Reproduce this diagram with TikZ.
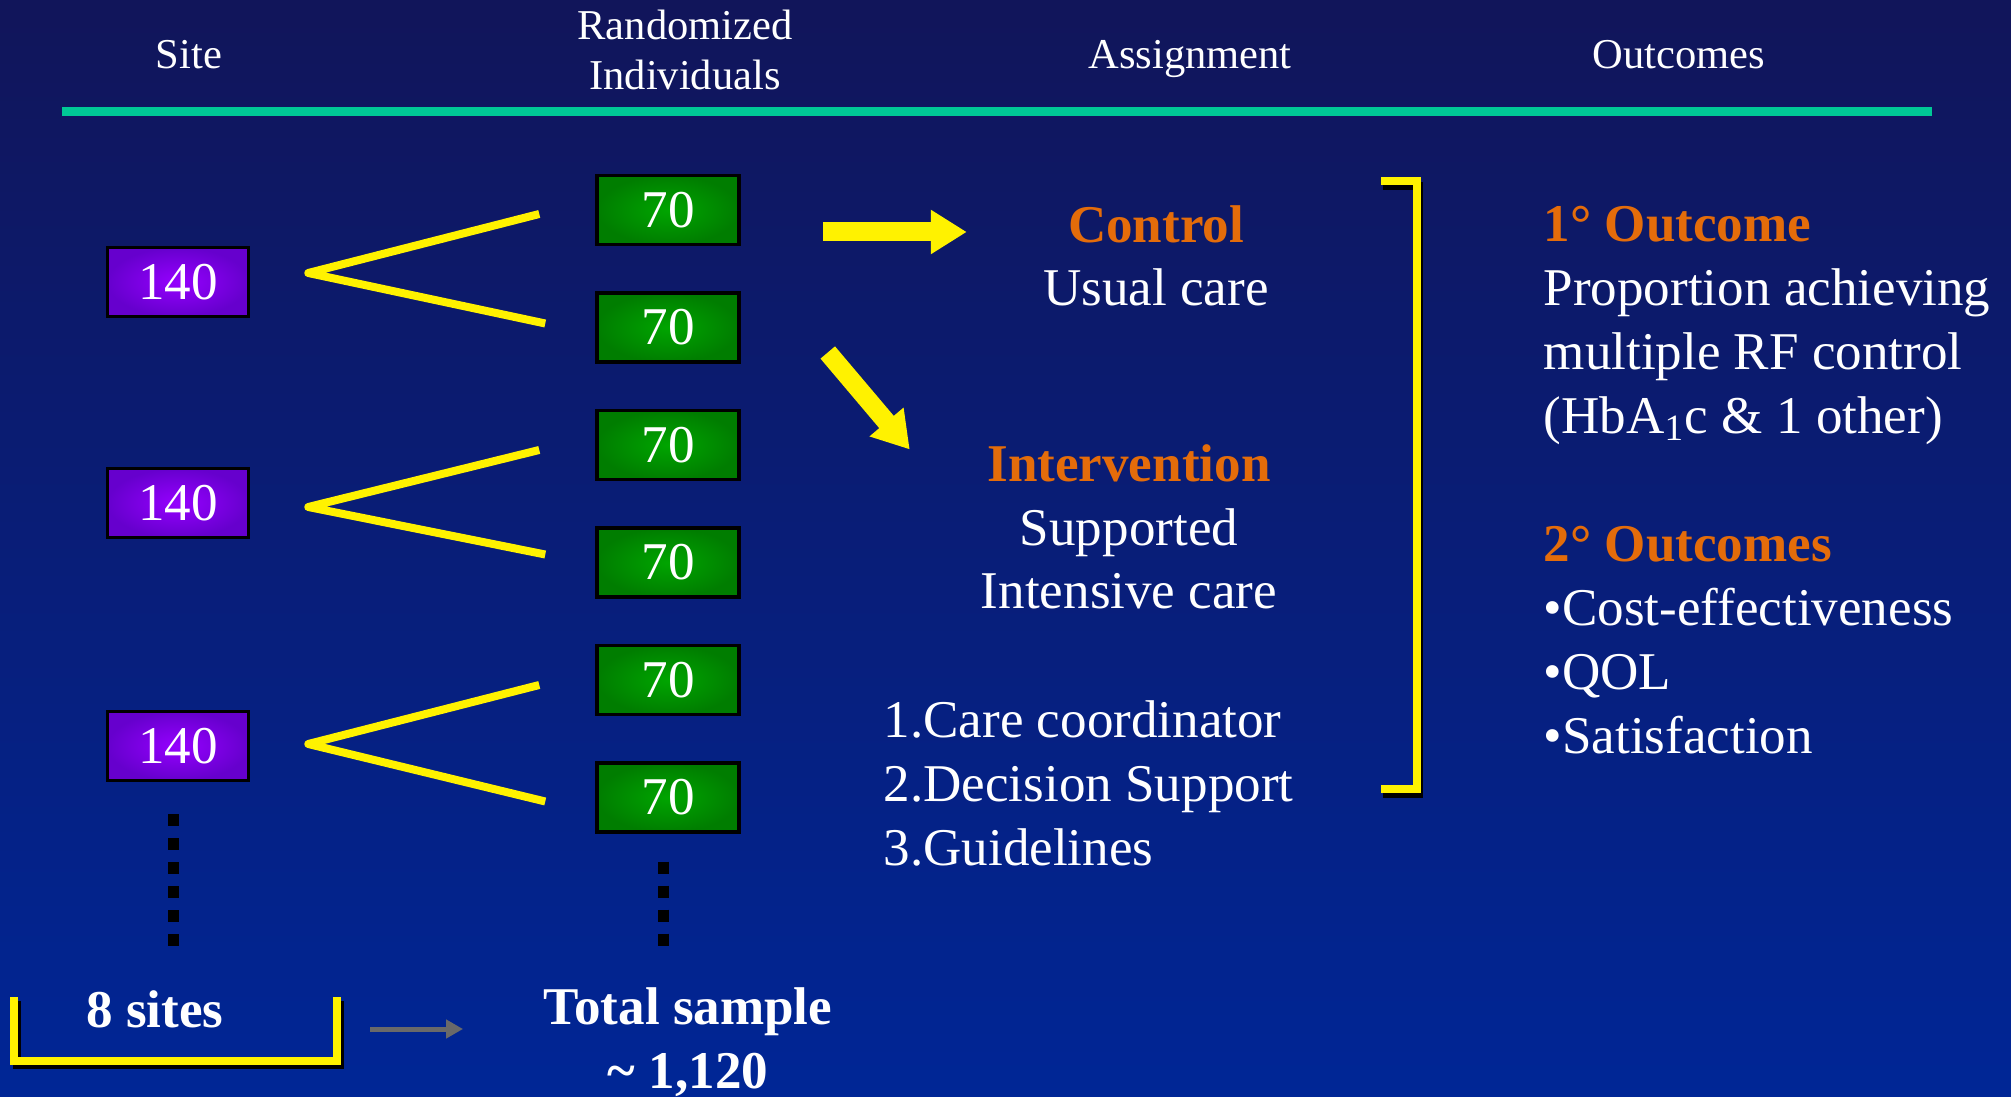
\documentclass[tikz,border=0pt]{standalone}
\usepackage{fontspec}
\setmainfont{Liberation Serif}
\usepackage{xcolor}
\usetikzlibrary{positioning,calc,arrows.meta}

\definecolor{navytop}{RGB}{17,21,90}
\definecolor{navybot}{RGB}{0,38,150}
\definecolor{rulegreen}{RGB}{0,200,150}
\definecolor{hdorange}{RGB}{228,108,10}
\definecolor{siteinner}{RGB}{150,0,255}
\definecolor{siteouter}{RGB}{102,0,205}
\definecolor{randinner}{RGB}{0,165,0}
\definecolor{randouter}{RGB}{0,125,0}
\definecolor{arrowgray}{RGB}{105,105,105}

\newcommand{\bodyfont}{\fontsize{15.1}{18.2}\selectfont}
\newcommand{\headfont}{\fontsize{12.1}{14.5}\selectfont}

\begin{document}
\begin{tikzpicture}[x=0.1mm, y=-0.1mm, node distance=11.75mm,
    sitebox/.style={draw=black, line width=0.35mm, minimum width=14.1mm, minimum height=6.9mm, inner color=siteinner, outer color=siteouter, text=white, font=\bodyfont},
    randbox/.style={draw=black, line width=0.35mm, minimum width=14.2mm, minimum height=6.9mm, inner color=randinner, outer color=randouter, text=white, font=\bodyfont},
    headtext/.style={text=white, font=\headfont, align=center, anchor=base, inner sep=0pt},
    bodytext/.style={text=white, font=\bodyfont, inner sep=0pt},
    fork/.style={yellow, line width=0.8mm, line join=round},
    dots/.style={black, line width=1.1mm, dash pattern=on 1.2mm off 1.2mm},
    yarrow/.style={yellow, line width=1.9mm, -{Triangle[length=3.6mm,width=4.2mm]}},
    grayarrow/.style={arrowgray, line width=0.5mm, -{Triangle[length=1.7mm,width=1.8mm]}},
    brace/.style={yellow, line width=0.8mm},
    braceshadow/.style={black, line width=0.8mm}]

    \useasboundingbox (0,0) rectangle (2011,1097);
    \shade [top color=navytop, bottom color=navybot] (0,0) rectangle (2011,1097);

    % Column headings
    \node [headtext] (hsite) at (189,69) {Site};
    \node [headtext] (hrand) at (685,90) {Randomized\\Individuals};
    \node [headtext] (hassign) at (1190,69) {Assignment};
    \node [headtext] (hout) at (1679,69) {Outcomes};
    \draw [rulegreen, line width=0.9mm] (62,111.5) -- (1932,111.5);

    % Sites
    \node [sitebox] (S1) at (178,282) {140};
    \node [sitebox] (S2) at (178,503) {140};
    \node [sitebox] (S3) at (178,746) {140};

    % Randomized individuals
    \node [randbox] (R1) at (668,210) {70};
    \node [randbox, below of=R1] (R2) {70};
    \node [randbox, below of=R2] (R3) {70};
    \node [randbox, below of=R3] (R4) {70};
    \node [randbox, below of=R4] (R5) {70};
    \node [randbox, below of=R5] (R6) {70};

    % Splits
    \draw [fork] ($(R1.west)+(-56,4)$) -- ($(S1.east)+(58,-9)$) -- ($(R2.west)+(-50,-4)$);
    \draw [fork] ($(R3.west)+(-56,5)$) -- ($(S2.east)+(58,4)$) -- ($(R4.west)+(-50,-8)$);
    \draw [fork] ($(R5.west)+(-56,5)$) -- ($(S3.east)+(58,-2)$) -- ($(R6.west)+(-50,4)$);

    \draw [dots] ($(S3.south)+(-5,32)$) -- ($(S3.south)+(-5,164)$);
    \draw [dots] ($(R6.south)+(-5,28)$) -- ($(R6.south)+(-5,112)$);

    % Totals
    \node [bodytext, font=\bodyfont\bfseries, anchor=base] (sites) at (155,1027) {8 sites};
    \draw [braceshadow, shift={(3,4)}] (13.5,997) -- (13.5,1061) -- (336.5,1061) -- (336.5,997);
    \draw [brace] (13.5,997) -- (13.5,1061) -- (336.5,1061) -- (336.5,997);
    \node [bodytext, font=\bodyfont\bfseries, align=center, anchor=base] (total) at (688,1088) {Total sample\\\textasciitilde\ 1,120};
    \draw [grayarrow] ($(sites.base)+(215,2)$) -- ($(sites.base -| total.west)+(-80,2)$);

    % Assignment
    \node [bodytext, align=center, anchor=base] (ctrl) at (1156,306) {\textcolor{hdorange}{\textbf{Control}}\\Usual care};
    \node [bodytext, align=center, anchor=base] (interv) at (1129,609) {\textcolor{hdorange}{\textbf{Intervention}}\\Supported\\Intensive care};
    \node [bodytext, align=left, anchor=base west] (parts) at (883,865) {1.Care coordinator\\2.Decision Support\\3.Guidelines};

    \coordinate (ctrltail) at ($(R1.east)+(82,22)$);
    \coordinate (ctrltip) at ($(ctrltail)+(144,0)$);
    \draw [yarrow] (ctrltail) -- (ctrltip);
    \coordinate (inttail) at ($(R2.east)+(87,25)$);
    \coordinate (inttip) at ($(inttail)+(82,97)$);
    \draw [yarrow] (inttail) -- (inttip);

    \draw [braceshadow, shift={(2,5)}] (1381,181) -- (1417,181) -- (1417,789) -- (1381,789);
    \draw [brace] (1381,181) -- (1417,181) -- (1417,789) -- (1381,789);

    % Outcomes
    \node [bodytext, align=left, anchor=base west] (outs) at (1543,753) {\textcolor{hdorange}{\textbf{1° Outcome}}\\Proportion achieving\\multiple RF control\\(HbA\textsubscript{1}c \& 1 other)\\[18.2pt]\textcolor{hdorange}{\textbf{2° Outcomes}}\\•Cost-effectiveness\\•QOL\\•Satisfaction};

\end{tikzpicture}
\end{document}
